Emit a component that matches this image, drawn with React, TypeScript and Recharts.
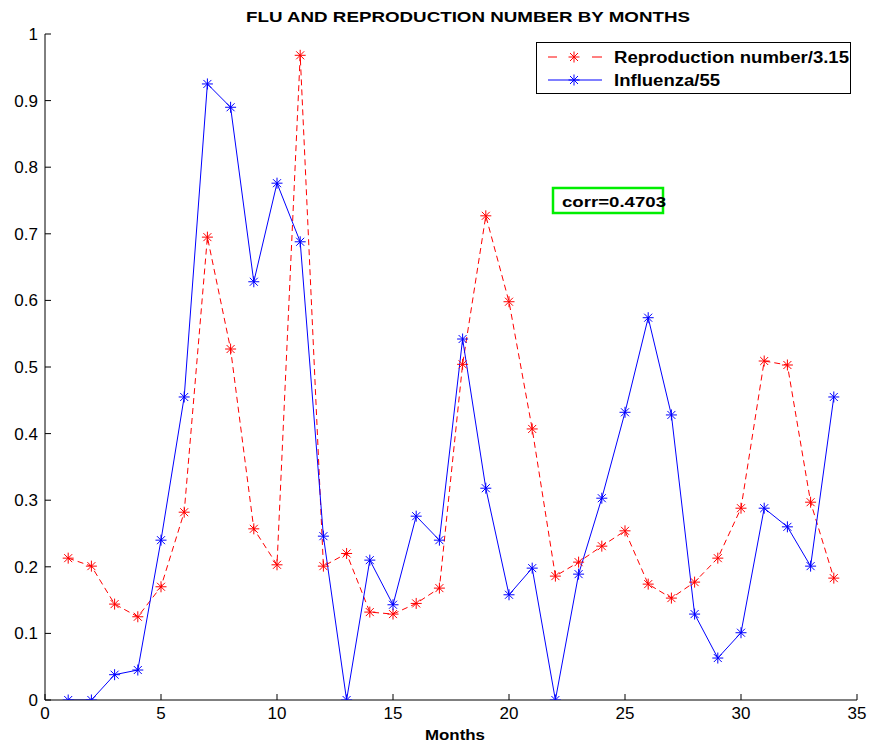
import React from 'react';
import { LineChart, Line, XAxis, YAxis, Legend, Customized } from 'recharts';

const months = [1, 2, 3, 4, 5, 6, 7, 8, 9, 10, 11, 12, 13, 14, 15, 16, 17, 18, 19, 20, 21, 22, 23, 24, 25, 26, 27, 28, 29, 30, 31, 32, 33, 34];

const reproduction = [
  0.213, 0.201, 0.144, 0.125, 0.170, 0.282, 0.695, 0.527, 0.257, 0.203,
  0.968, 0.201, 0.220, 0.132, 0.129, 0.145, 0.168, 0.504, 0.727, 0.598,
  0.407, 0.186, 0.207, 0.231, 0.254, 0.174, 0.153, 0.177, 0.213, 0.288,
  0.509, 0.503, 0.297, 0.183,
];

const influenza = [
  0.0, 0.0, 0.038, 0.045, 0.240, 0.455, 0.925, 0.890, 0.628, 0.776,
  0.688, 0.246, 0.0, 0.210, 0.143, 0.276, 0.240, 0.542, 0.318, 0.158,
  0.198, 0.0, 0.189, 0.303, 0.432, 0.574, 0.428, 0.129, 0.063, 0.101,
  0.288, 0.260, 0.201, 0.455,
];

const xTicks = [0, 5, 10, 15, 20, 25, 30, 35];
const yTicks = [0, 0.1, 0.2, 0.3, 0.4, 0.5, 0.6, 0.7, 0.8, 0.9, 1];

const seriesNames = ['Reproduction number/3.15', 'Influenza/55'];
const titleText = 'FLU AND REPRODUCTION NUMBER BY MONTHS';
const xLabel = 'Months';
const corrText = 'corr=0.4703';

const data = months.map((m, i) => ({
  month: m,
  reproduction: reproduction[i],
  influenza: influenza[i],
}));

const FONT = '"Liberation Sans", Arial, Helvetica, sans-serif';

// asterisk marker: plus sign overlaid with a cross
const Star = (props: any) => {
  const { cx, cy, stroke, index } = props;
  if (cx == null || cy == null) return null;
  const r = 5.5;
  const d = 4;
  return (
    <g key={`star-${index}`} stroke={stroke} strokeWidth={1} strokeDasharray="none" fill="none">
      <line x1={cx - r} y1={cy} x2={cx + r} y2={cy} />
      <line x1={cx} y1={cy - r} x2={cx} y2={cy + r} />
      <line x1={cx - d} y1={cy - d} x2={cx + d} y2={cy + d} />
      <line x1={cx - d} y1={cy + d} x2={cx + d} y2={cy - d} />
    </g>
  );
};

// legend drawn as a boxed svg, coordinates relative to the legend's top-left corner
const LegendBox = () => {
  const rowY = [15, 38];
  return (
    <svg width={316} height={54} style={{ display: 'block' }}>
      <rect x={0.5} y={0.5} width={314} height={51} fill="#fff" stroke="#000" strokeWidth={1} />
      {/* dashed sample */}
      <line x1={12} y1={rowY[0]} x2={21} y2={rowY[0]} stroke="#ff0000" strokeWidth={1} />
      <line x1={56} y1={rowY[0]} x2={66} y2={rowY[0]} stroke="#ff0000" strokeWidth={1} />
      <Star cx={38} cy={rowY[0]} stroke="#ff0000" index={0} />
      {/* solid sample */}
      <line x1={12} y1={rowY[1]} x2={66} y2={rowY[1]} stroke="#0000ff" strokeWidth={1} />
      <Star cx={38} cy={rowY[1]} stroke="#0000ff" index={1} />
      <text x={78} y={rowY[0] + 6} fontFamily={FONT} fontWeight="bold" fontSize={16} fill="#000"
        textLength={235} lengthAdjust="spacingAndGlyphs">
        {seriesNames[0]}
      </text>
      <text x={78} y={rowY[1] + 6} fontFamily={FONT} fontWeight="bold" fontSize={16} fill="#000"
        textLength={106} lengthAdjust="spacingAndGlyphs">
        {seriesNames[1]}
      </text>
    </svg>
  );
};

const Annotations = () => (
  <g fontFamily={FONT} fontWeight="bold">
    <text x={246} y={22} fontSize={15.5} fill="#000" textLength={444} lengthAdjust="spacingAndGlyphs">
      {titleText}
    </text>
    <text x={425} y={740} fontSize={15.5} fill="#000" textLength={60} lengthAdjust="spacingAndGlyphs">
      {xLabel}
    </text>
    <rect x={553} y={188} width={110} height={25} fill="#fff" stroke="#00ee00" strokeWidth={2.5} />
    <text x={562} y={207} fontSize={15.5} fill="#000" textLength={104} lengthAdjust="spacingAndGlyphs">
      {corrText}
    </text>
  </g>
);

export default function App() {
  return (
    <div style={{ position: 'absolute', left: 0, top: 0, width: 872, height: 748, background: '#fff' }}>
      <LineChart
        width={872}
        height={748}
        data={data}
        margin={{ top: 34, right: 15, bottom: 18, left: 5 }}
        style={{ fontFamily: FONT }}
      >
        <XAxis
          xAxisId="bottom"
          dataKey="month"
          type="number"
          domain={[0, 35]}
          ticks={xTicks}
          orientation="bottom"
          height={30}
          stroke="#000"
          tickSize={-6}
          tickMargin={13}
          tick={{ fill: '#000', fontSize: 17 }}
          allowDataOverflow
        />
        <XAxis
          xAxisId="top"
          dataKey="month"
          type="number"
          domain={[0, 35]}
          ticks={xTicks}
          orientation="top"
          height={0}
          stroke="#000"
          tickSize={-6}
          tick={false}
          allowDataOverflow
        />
        <YAxis
          yAxisId="left"
          type="number"
          domain={[0, 1]}
          ticks={yTicks}
          orientation="left"
          width={40}
          stroke="#000"
          tickSize={-6}
          tickMargin={13}
          tick={{ fill: '#000', fontSize: 17 }}
          tickFormatter={(v: number) => String(Math.round(v * 10) / 10)}
          allowDataOverflow
        />
        <YAxis
          yAxisId="right"
          type="number"
          domain={[0, 1]}
          ticks={yTicks}
          orientation="right"
          width={0}
          stroke="#000"
          tickSize={-6}
          tick={false}
          allowDataOverflow
        />
        <Line
          xAxisId="bottom"
          yAxisId="left"
          dataKey="reproduction"
          name={seriesNames[0]}
          type="linear"
          stroke="#ff0000"
          strokeWidth={1}
          strokeDasharray="6 4"
          dot={<Star />}
          activeDot={false}
          isAnimationActive={false}
        />
        <Line
          xAxisId="bottom"
          yAxisId="left"
          dataKey="influenza"
          name={seriesNames[1]}
          type="linear"
          stroke="#0000ff"
          strokeWidth={1}
          dot={<Star />}
          activeDot={false}
          isAnimationActive={false}
        />
        <Legend
          layout="horizontal"
          verticalAlign="middle"
          align="center"
          content={<LegendBox />}
          wrapperStyle={{ position: 'absolute', left: 536, top: 42, width: 316, height: 54 }}
        />
        <Customized component={<Annotations />} />
      </LineChart>
    </div>
  );
}
